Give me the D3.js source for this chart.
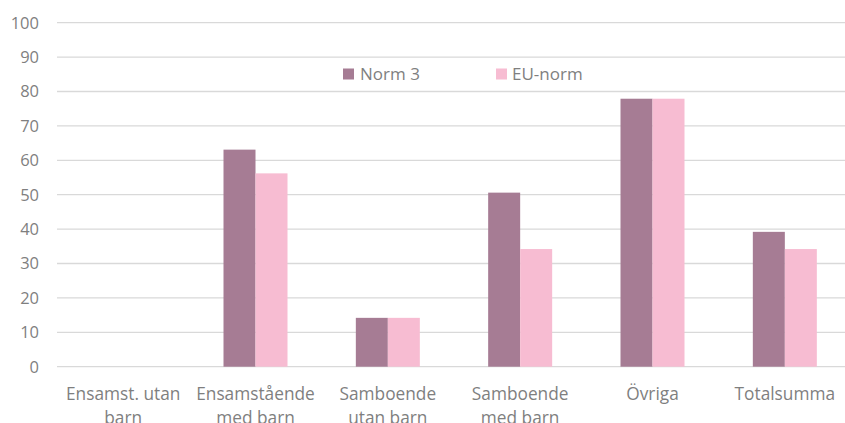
<!DOCTYPE html>
<html>
<head>
<meta charset="utf-8">
<script src="https://cdn.jsdelivr.net/npm/d3@7"></script>
<style>
  body { margin: 0; background: #fff; overflow: hidden; }
  text { font-family: "Open Sans", "Liberation Sans", sans-serif; fill: #7f7f7f; }
</style>
</head>
<body>
<svg width="845" height="423"></svg>
<script>
const categories = ['Ensamst. utan barn', 'Ensamstående med barn', 'Samboende utan barn', 'Samboende med barn', 'Övriga', 'Totalsumma'];
const labelLines = [['Ensamst. utan', 'barn'], ['Ensamstående', 'med barn'], ['Samboende', 'utan barn'], ['Samboende', 'med barn'], ['Övriga'], ['Totalsumma']];
const seriesNames = ['Norm 3', 'EU-norm'];
const norm3 = [0, 63.1, 14.2, 50.6, 77.9, 39.2];
const euNorm = [0, 56.2, 14.2, 34.2, 77.9, 34.2];
const yTicks = [0, 10, 20, 30, 40, 50, 60, 70, 80, 90, 100];
const colors = ['#a67c94', '#f7bcd2'];

const svg = d3.select('svg');
const plotLeft = 57, plotRight = 851, plotTop = 22.7, plotBottom = 366.7;

const x = d3.scaleBand().domain(categories).range([plotLeft, plotRight]);
const xs = d3.scaleBand().domain(seriesNames).range([0, 64]);
const y = d3.scaleLinear().domain([0, 100]).range([plotBottom, plotTop]);

// gridlines
svg.append('g').selectAll('line')
    .data(yTicks)
    .join('line')
    .attr('x1', plotLeft).attr('x2', plotRight)
    .attr('y1', d => y(d)).attr('y2', d => y(d))
    .attr('stroke', '#d9d9d9').attr('stroke-width', 1.3);

// y labels
svg.append('g').selectAll('text')
    .data(yTicks)
    .join('text')
    .attr('x', 39).attr('y', d => y(d) + 5.8)
    .attr('text-anchor', 'end')
    .style('font-size', '16.5px')
    .text(d => d);

// bars
const rows = categories.map((c, i) => ({ c, vals: [norm3[i], euNorm[i]] }));
const groups = svg.append('g').selectAll('g')
    .data(rows)
    .join('g')
    .attr('transform', d => `translate(${x(d.c) + x.bandwidth() / 2 - 32},0)`);

groups.selectAll('rect')
    .data(d => d.vals.map((v, j) => ({ s: seriesNames[j], v, j })))
    .join('rect')
    .attr('x', d => xs(d.s))
    .attr('width', xs.bandwidth())
    .attr('y', d => y(d.v))
    .attr('height', d => y(0) - y(d.v))
    .attr('fill', d => colors[d.j]);

// category labels
const lab = svg.append('g').selectAll('text')
    .data(categories)
    .join('text')
    .attr('x', d => x(d) + x.bandwidth() / 2)
    .attr('y', 400)
    .attr('text-anchor', 'middle')
    .style('font-size', '17.3px');
lab.selectAll('tspan')
    .data((d, i) => labelLines[i])
    .join('tspan')
    .attr('x', function () { return d3.select(this.parentNode).attr('x'); })
    .attr('dy', (d, i) => i === 0 ? 0 : 23.5)
    .text(d => d);

// legend
const legX = [343, 496];
const leg = svg.append('g').selectAll('g')
    .data(seriesNames)
    .join('g')
    .attr('transform', (d, i) => `translate(${legX[i]},68.5)`);
leg.append('rect').attr('width', 11).attr('height', 11).attr('fill', (d, i) => colors[i]);
leg.append('text').attr('x', (d, i) => i === 0 ? 17 : 16).attr('y', 11.5).style('font-size', '17px').text(d => d);
</script>
</body>
</html>
